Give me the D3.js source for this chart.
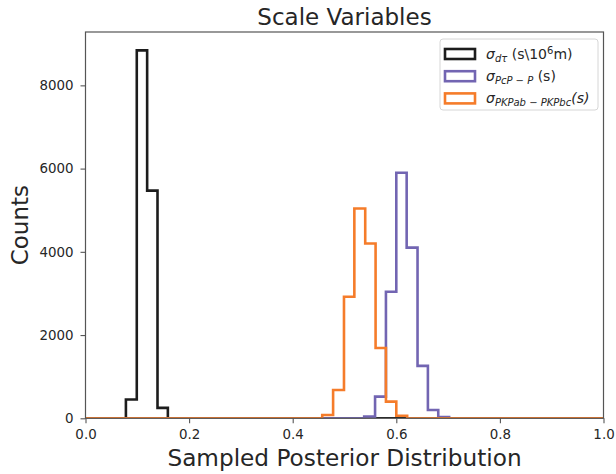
<!DOCTYPE html>
<html>
<head>
<meta charset="utf-8">
<script src="https://cdn.jsdelivr.net/npm/d3@7"></script>
<style>
  html, body { margin: 0; padding: 0; background: #fff; }
  svg { display: block; font-family: "DejaVu Sans", sans-serif; }
</style>
</head>
<body>
<svg id="chart" width="616" height="474"></svg>
<script>
// Histogram bin edges and counts for each scale variable
const dtEdges   = [0.078, 0.099, 0.119, 0.139, 0.159];
const dtCounts  = [450, 8840, 5470, 250];

const pcpEdges  = [0.538, 0.559, 0.580, 0.600, 0.620, 0.641, 0.661, 0.681, 0.702];
const pcpCounts = [40, 520, 3040, 5900, 4100, 1260, 200, 30];

const pkpEdges  = [0.457, 0.478, 0.499, 0.519, 0.540, 0.560, 0.580, 0.600, 0.621];
const pkpCounts = [80, 680, 2920, 5040, 4200, 1690, 400, 60];

const xTicks = [0, 0.2, 0.4, 0.6, 0.8, 1.0];
const yTicks = [0, 2000, 4000, 6000, 8000];

const series = [
  { edges: dtEdges,  counts: dtCounts,  color: "#1c1c1c" },
  { edges: pcpEdges, counts: pcpCounts, color: "#7265b2" },
  { edges: pkpEdges, counts: pkpCounts, color: "#f57c2a" }
];

const svg = d3.select("#chart");
const plotLeft = 85.5, plotRight = 603.5, plotTop = 32, plotBottom = 418.3;

const yMax = d3.max(series, s => d3.max(s.counts)) * 1.05;
const x = d3.scaleLinear().domain([0, 1]).range([plotLeft, plotRight]);
const y = d3.scaleLinear().domain([0, yMax]).range([plotBottom, plotTop]);

svg.append("defs").append("clipPath").attr("id", "plotClip")
  .append("rect").attr("x", plotLeft).attr("y", plotTop)
  .attr("width", plotRight - plotLeft).attr("height", plotBottom - plotTop);

// Step outlines spanning the whole axis range (zero bins drawn along the baseline)
function stepPoints(s) {
  const pts = [[0, 0], [s.edges[0], 0]];
  s.counts.forEach((c, i) => {
    pts.push([s.edges[i], c]);
    pts.push([s.edges[i + 1], c]);
  });
  pts.push([s.edges[s.edges.length - 1], 0]);
  pts.push([1, 0]);
  return pts;
}
const line = d3.line().x(d => x(d[0])).y(d => y(d[1]));

const plot = svg.append("g").attr("clip-path", "url(#plotClip)");
series.forEach(s => {
  plot.append("path")
    .attr("d", line(stepPoints(s)))
    .attr("fill", "none")
    .attr("stroke", s.color)
    .attr("stroke-width", 2.6)
    .attr("stroke-linejoin", "miter");
});

// Axes
const axisColor = "#555";
const xAxis = svg.append("g").attr("transform", `translate(0,${plotBottom})`)
  .call(d3.axisBottom(x).tickValues(xTicks).tickFormat(d3.format(".1f"))
    .tickSize(5).tickPadding(6).tickSizeOuter(0));
const yAxis = svg.append("g").attr("transform", `translate(${plotLeft},0)`)
  .call(d3.axisLeft(y).tickValues(yTicks).tickFormat(d3.format("d"))
    .tickSize(5).tickPadding(7).tickSizeOuter(0));
[xAxis, yAxis].forEach(a => {
  a.select(".domain").remove();
  a.selectAll(".tick line").attr("stroke", axisColor).attr("stroke-width", 1.1);
  a.selectAll(".tick text").attr("fill", "#262626")
    .style("font-size", "13.4px").style("font-family", "DejaVu Sans");
});

// Frame
svg.append("rect").attr("x", plotLeft).attr("y", plotTop)
  .attr("width", plotRight - plotLeft).attr("height", plotBottom - plotTop)
  .attr("fill", "none").attr("stroke", axisColor).attr("stroke-width", 1.2);

// Title and axis labels
svg.append("text").attr("x", (plotLeft + plotRight) / 2).attr("y", 25)
  .attr("text-anchor", "middle").attr("fill", "#262626")
  .style("font-size", "23px").text("Scale Variables");
svg.append("text").attr("x", (plotLeft + plotRight) / 2).attr("y", 466)
  .attr("text-anchor", "middle").attr("fill", "#262626")
  .style("font-size", "23.2px").text("Sampled Posterior Distribution");
svg.append("text")
  .attr("transform", `translate(28,${(plotTop + plotBottom) / 2}) rotate(-90)`)
  .attr("text-anchor", "middle").attr("fill", "#262626")
  .style("font-size", "23px").text("Counts");

// Legend
const legend = svg.append("g");
legend.append("rect").attr("x", 440).attr("y", 39).attr("width", 158).attr("height", 71)
  .attr("rx", 3).attr("fill", "#fff").attr("fill-opacity", 0.8)
  .attr("stroke", "#d6d6d6").attr("stroke-width", 1);

const legendLabels = [
  { sub: "dτ", rest: " (s\\10", sup: "6", tail: "m)", restItalic: false },
  { sub: "PcP − P", rest: " (s)", sup: null, tail: "", restItalic: false },
  { sub: "PKPab − PKPbc", rest: "(s)", sup: null, tail: "", restItalic: true }
];
legendLabels.forEach((lab, i) => {
  const cy = 54 + i * 22.2;
  legend.append("rect").attr("x", 445).attr("y", cy - 5).attr("width", 30).attr("height", 10)
    .attr("fill", "none").attr("stroke", series[i].color).attr("stroke-width", 2.6);
  const t = legend.append("text").attr("x", 486).attr("y", cy + 5)
    .attr("fill", "#262626").style("font-size", "14px");
  t.append("tspan").style("font-style", "italic").text("σ");
  t.append("tspan").attr("dy", 3).style("font-style", "italic")
    .style("font-size", "10px").text(lab.sub);
  t.append("tspan").attr("dy", -3)
    .style("font-style", lab.restItalic ? "italic" : "normal").text(lab.rest);
  if (lab.sup) {
    t.append("tspan").attr("dy", -5.5).style("font-size", "10px").text(lab.sup);
    t.append("tspan").attr("dy", 5.5).text(lab.tail);
  }
});
</script>
</body>
</html>
